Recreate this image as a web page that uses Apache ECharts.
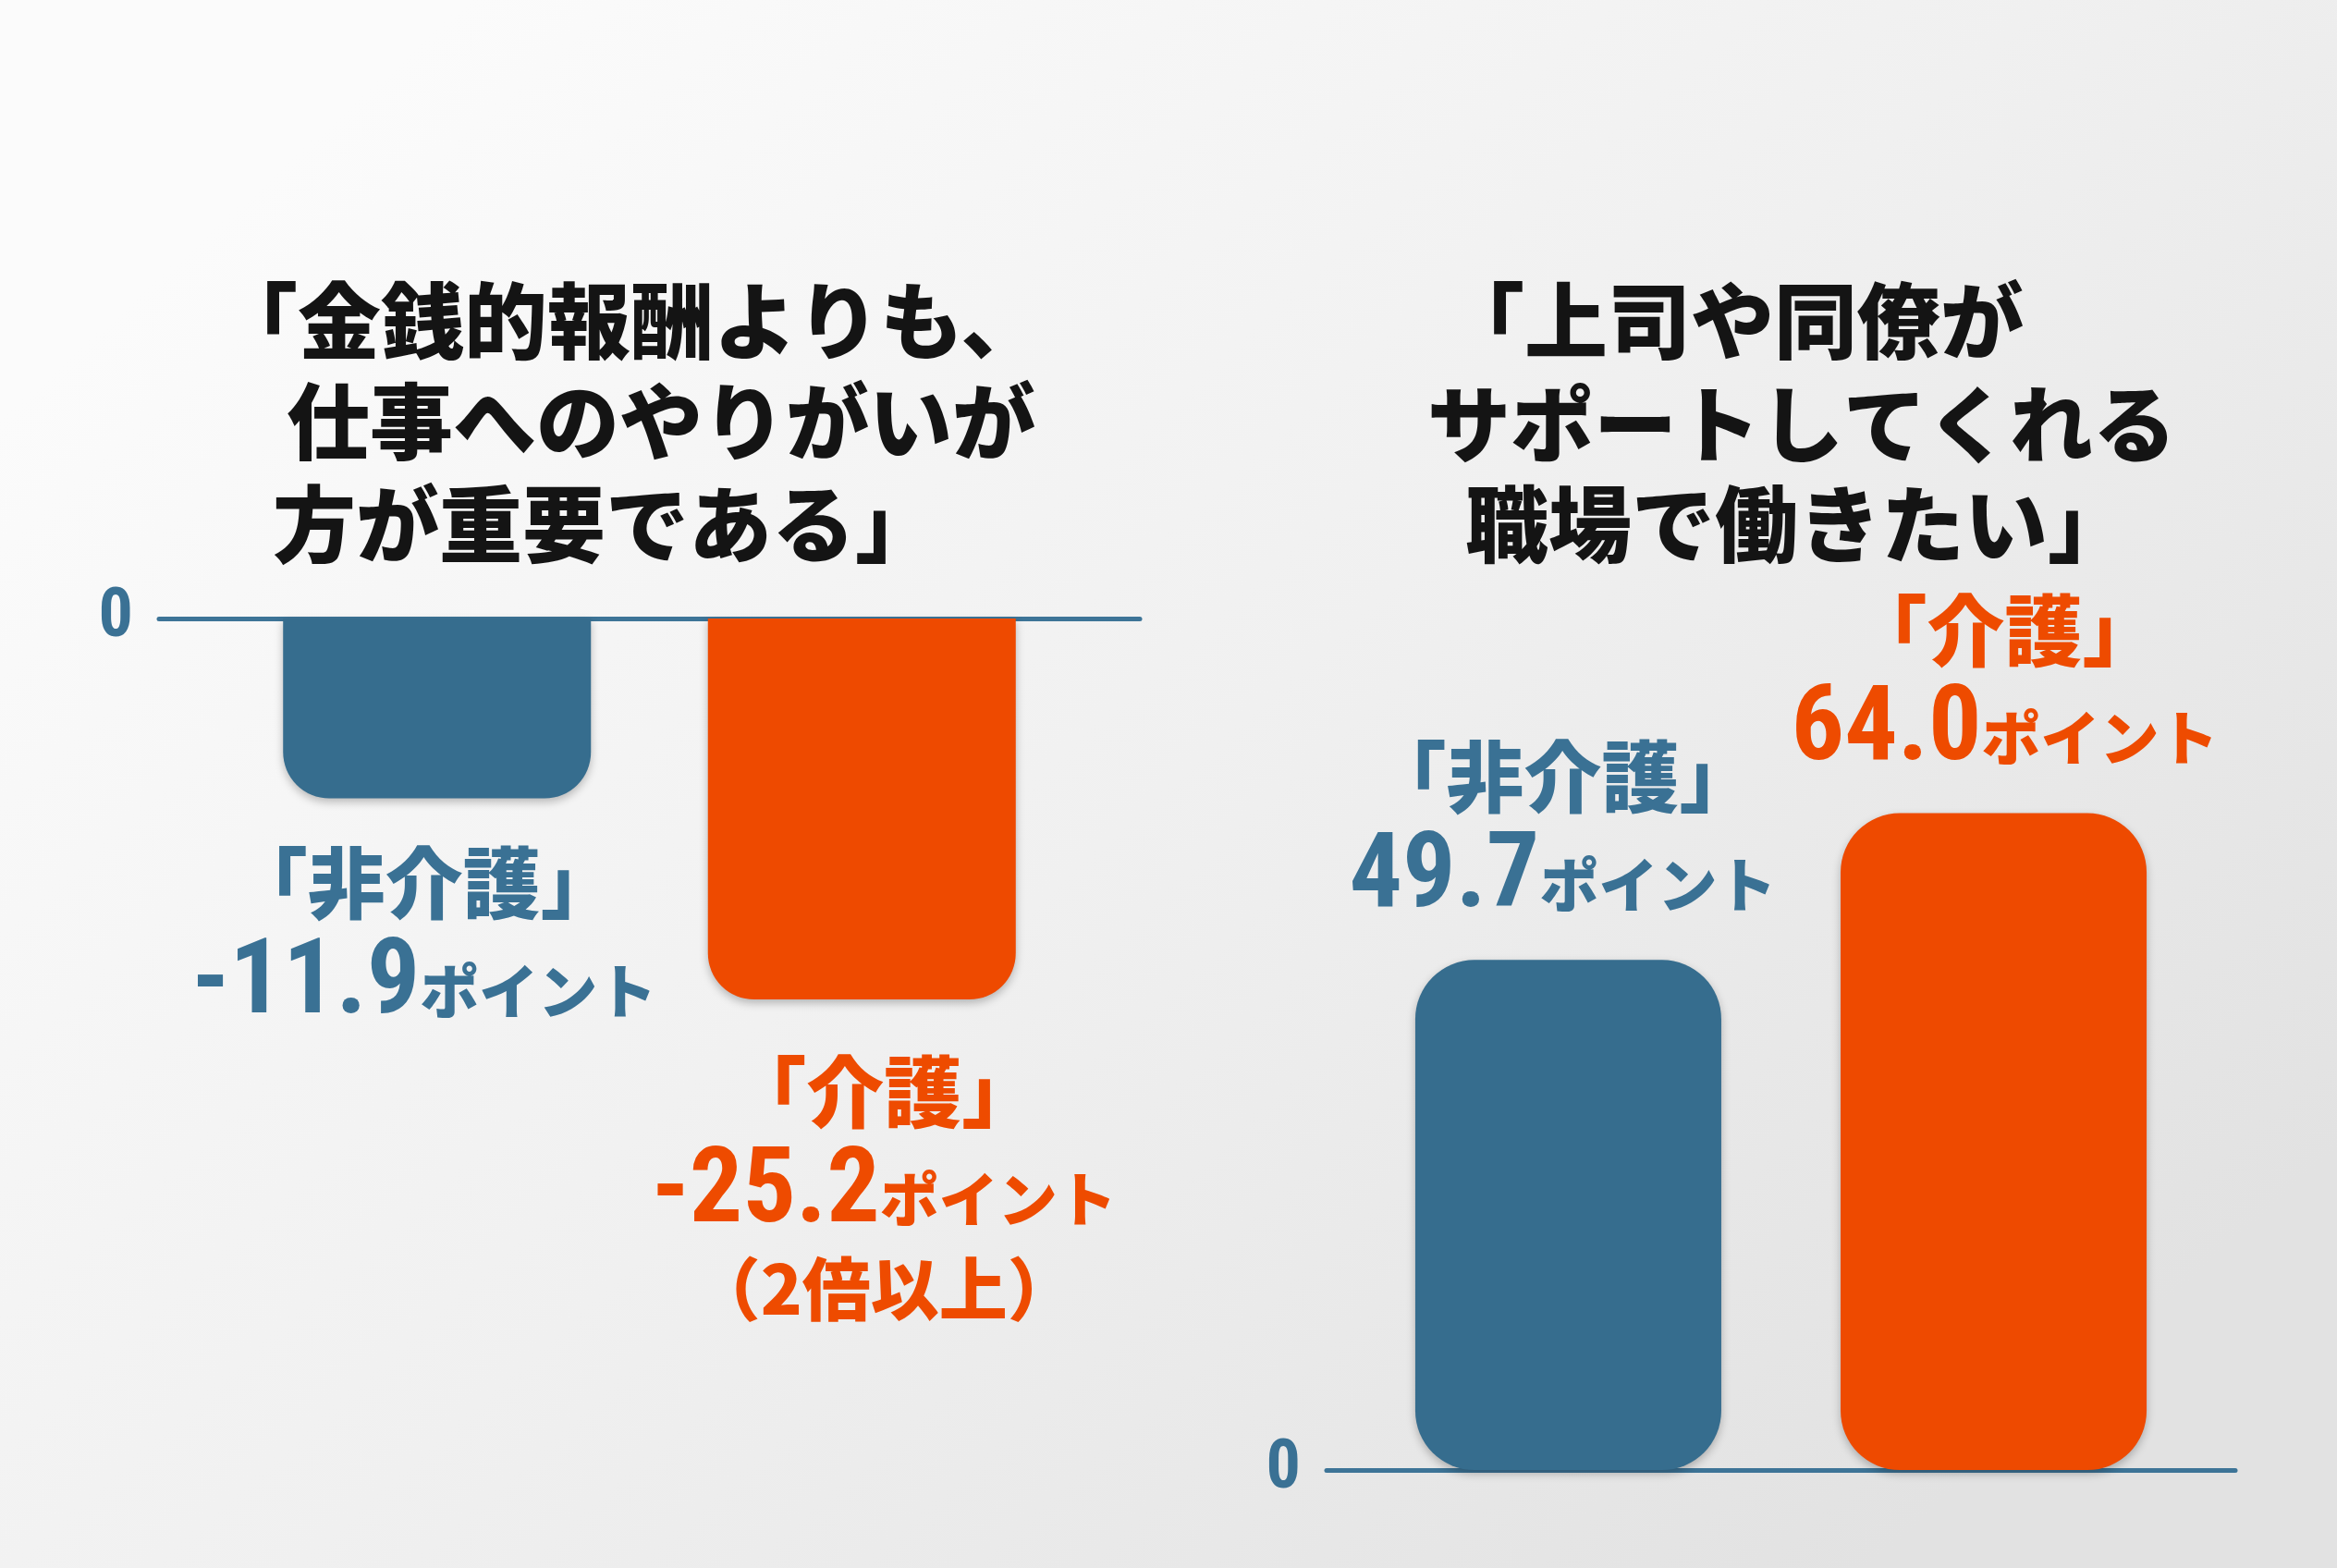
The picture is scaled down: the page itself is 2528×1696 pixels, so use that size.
<!DOCTYPE html>
<html>
<head>
<meta charset="utf-8">
<script src="https://cdn.jsdelivr.net/npm/echarts@6/dist/echarts.min.js"></script>
<style>
html,body{margin:0;padding:0;}
#chart{width:2528px;height:1696px;}
</style>
</head>
<body>
<div id="chart"></div>
<script>
// data
const groups = ["非介護", "介護"];
const leftValues = [-11.9, -25.2];
const rightValues = [49.7, 64.0];
const leftNotes = ["", "（2倍以上）"];
const rightNotes = ["", ""];
const leftTitle = ["「金銭的報酬よりも、", "仕事へのやりがいが", "方が重要である」"];
const rightTitle = ["「上司や同僚が", "サポートしてくれる", "職場で働きたい」"];
const unit = "ポイント";

const colors = ["#366d8e", "#ee4a00"];
const textColors = ["#3a7194", "#ee4b00"];
const jp = "'Noto Sans CJK JP', sans-serif";
const num = "'Roboto Condensed', 'Noto Sans ExtraCondensed', 'Noto Sans Condensed', 'Liberation Sans Narrow', 'DejaVu Sans Condensed', sans-serif";

const richFor = (i) => ({
    name: {fontFamily: jp, fontWeight: 900, fontSize: 84, lineHeight: 112, color: textColors[i]},
    num: {fontFamily: num, fontWeight: "bold", fontSize: 114, lineHeight: 112, color: textColors[i], verticalAlign: "bottom"},
    pt: {fontFamily: jp, fontWeight: 900, fontSize: 64, lineHeight: 112, color: textColors[i], verticalAlign: "bottom", padding: [0, 0, 20, 0]},
    sub: {fontFamily: jp, fontWeight: 900, fontSize: 74, lineHeight: 90, color: textColors[i]}
});

const labelText = (values, notes, i) => {
    let s = "{name|「" + groups[i] + "」}\n{num|" + values[i].toFixed(1) + "}{pt|" + unit + "}";
    if (notes[i]) s += "\n{sub|" + notes[i] + "}";
    return s;
};

const titleLines = (lines, xs, ys) => lines.map((t, k) => ({
    type: "text",
    x: xs[k],
    y: ys[k],
    style: {
        text: t,
        fill: "#141414",
        font: "900 90px " + jp,
        textVerticalAlign: "middle"
    }
}));

const zeroAxis = (gridIndex, min, max) => ({
    type: "value",
    gridIndex: gridIndex,
    min: min,
    max: max,
    interval: max - min,
    axisLine: {show: false},
    axisTick: {show: false},
    splitLine: {show: false},
    axisLabel: {
        formatter: (v) => (v === 0 ? "0" : ""),
        fontFamily: num,
        fontWeight: "bold",
        fontSize: 74,
        color: "#3a7194",
        margin: 28
    }
});

const catAxis = (gridIndex) => ({
    type: "category",
    gridIndex: gridIndex,
    data: [""],
    axisLine: {show: true, onZero: true, lineStyle: {color: "#3d7497", width: 5}},
    axisTick: {show: false},
    axisLabel: {show: false}
});

const series = [];
groups.forEach((g, i) => {
    series.push({
        name: g,
        type: "bar",
        xAxisIndex: 0,
        yAxisIndex: 0,
        data: [leftValues[i]],
        barWidth: 333,
        barGap: "38%",
        itemStyle: {
            color: colors[i],
            borderRadius: [0, 0, 50, 50],
            shadowColor: "rgba(0,0,0,0.25)",
            shadowBlur: 10,
            shadowOffsetY: 4
        },
        label: {
            show: true,
            position: "bottom",
            distance: i === 0 ? 36 : 44,
            offset: [i === 0 ? -14 : 24, 0],
            align: "center",
            formatter: () => labelText(leftValues, leftNotes, i),
            rich: richFor(i)
        }
    });
});
groups.forEach((g, i) => {
    series.push({
        name: g,
        type: "bar",
        xAxisIndex: 1,
        yAxisIndex: 1,
        data: [rightValues[i]],
        barWidth: 331,
        barGap: "39%",
        itemStyle: {
            color: colors[i],
            borderRadius: 64,
            shadowColor: "rgba(0,0,0,0.25)",
            shadowBlur: 10,
            shadowOffsetY: 4
        },
        label: {
            show: true,
            position: "top",
            distance: 30,
            offset: [i === 0 ? -6 : 12, 0],
            align: "center",
            formatter: () => labelText(rightValues, rightNotes, i),
            rich: richFor(i)
        }
    });
});

const chart = echarts.init(document.getElementById("chart"));
chart.setOption({
    animation: false,
    backgroundColor: new echarts.graphic.LinearGradient(0.2, 0, 0.8, 1, [
        {offset: 0, color: "#fbfbfb"},
        {offset: 0.5, color: "#f0f0f0"},
        {offset: 1, color: "#e2e2e2"}
    ]),
    grid: [
        {left: 172, width: 1061, top: 669, height: 654},
        {left: 1435, width: 983, top: 480, height: 1110}
    ],
    xAxis: [catAxis(0), catAxis(1)],
    yAxis: [zeroAxis(0, -40, 0), zeroAxis(1, 0, 100)],
    graphic: titleLines(leftTitle, [232, 310, 295], [347, 456, 567])
        .concat(titleLines(rightTitle, [1559, 1544, 1585], [347, 459, 567])),
    series: series
});
</script>
</body>
</html>
